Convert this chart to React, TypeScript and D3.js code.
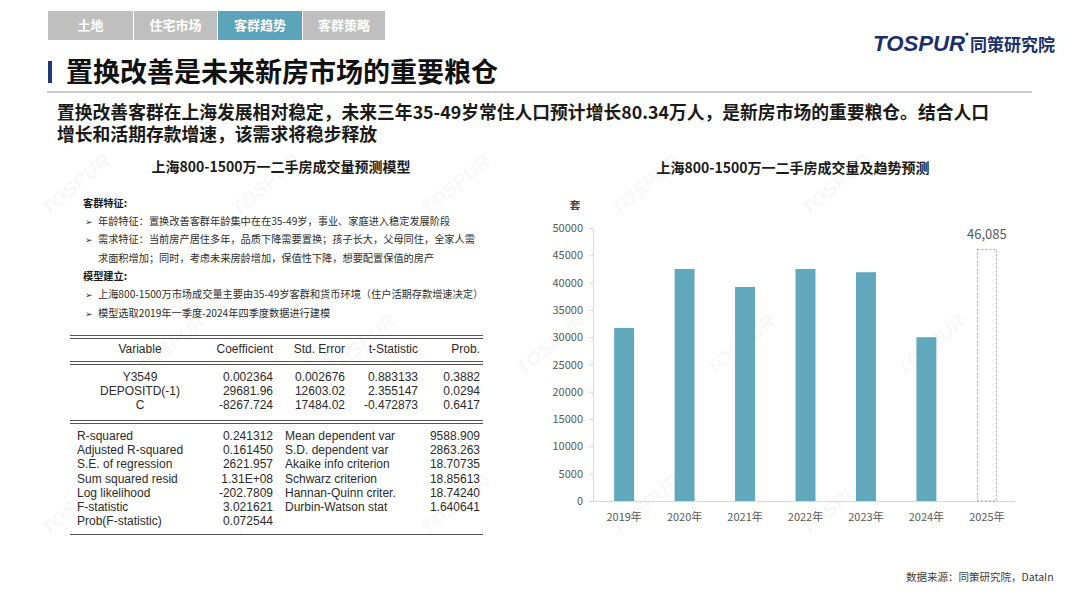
import { useMemo } from "react";
import { scaleBand, scaleLinear, scalePoint, range } from "d3";

const W = 1080;
const H = 608;

const cjk = "'Noto Sans CJK SC', 'Noto Sans', sans-serif";
const arial = "'Liberation Sans', Arial, sans-serif";

// tabs
const tabs = ["土地", "住宅市场", "客群趋势", "客群策略"];
const activeTab = "客群趋势";

// bar chart data
const years = ["2019年", "2020年", "2021年", "2022年", "2023年", "2024年", "2025年"];
const volumes = [31700, 42500, 39200, 42500, 41900, 30000, 46085];
const forecastYear = "2025年";
const yTicks = [0, 5000, 10000, 15000, 20000, 25000, 30000, 35000, 40000, 45000, 50000];

// regression table
const tableHeaders = ["Variable", "Coefficient", "Std. Error", "t-Statistic", "Prob."];
const varNames = ["Y3549", "DEPOSITD(-1)", "C"];
const coefs = ["0.002364", "29681.96", "-8267.724"];
const stdErrs = ["0.002676", "12603.02", "17484.02"];
const tStats = ["0.883133", "2.355147", "-0.472873"];
const probs = ["0.3882", "0.0294", "0.6417"];
const statLabelsL = [
  "R-squared",
  "Adjusted R-squared",
  "S.E. of regression",
  "Sum squared resid",
  "Log likelihood",
  "F-statistic",
  "Prob(F-statistic)",
];
const statValsL = ["0.241312", "0.161450", "2621.957", "1.31E+08", "-202.7809", "3.021621", "0.072544"];
const statLabelsR = [
  "Mean dependent var",
  "S.D. dependent var",
  "Akaike info criterion",
  "Schwarz criterion",
  "Hannan-Quinn criter.",
  "Durbin-Watson stat",
];
const statValsR = ["9588.909", "2863.263", "18.70735", "18.85613", "18.74240", "1.640641"];

// notes
const notes: Array<{ kind: "head" | "bullet" | "cont"; text: string }> = [
  { kind: "head", text: "客群特征:" },
  { kind: "bullet", text: "年龄特征：置换改善客群年龄集中在在35-49岁，事业、家庭进入稳定发展阶段" },
  { kind: "bullet", text: "需求特征：当前房产居住多年，品质下降需要置换；孩子长大，父母同住，全家人需" },
  { kind: "cont", text: "求面积增加；同时，考虑未来房龄增加，保值性下降，想要配置保值的房产" },
  { kind: "head", text: "模型建立:" },
  { kind: "bullet", text: "上海800-1500万市场成交量主要由35-49岁客群和货币环境（住户活期存款增速决定）" },
  { kind: "bullet", text: "模型选取2019年一季度-2024年四季度数据进行建模" },
];

const barColor = "#62a8bd";
const axisColor = "#d9d9d9";
const labelColor = "#595959";

export default function App() {
  const { x, y } = useMemo(() => {
    const x = scaleBand<string>().domain(years).range([593, 1018]).paddingInner(0.67).paddingOuter(0.35);
    const y = scaleLinear().domain([0, 50000]).range([501, 228]);
    return { x, y };
  }, []);

  const noteY = scalePoint<number>().domain(range(notes.length)).range([203, 313]);
  const statY = scalePoint<number>().domain(range(statLabelsL.length)).range([436, 521]);
  const varY = scalePoint<number>().domain(range(varNames.length)).range([377, 405]);
  const colRight = [0, 273, 345, 418, 480];

  // faint background watermarks, kept inside the page
  const watermarks: Array<[number, number]> = [];
  for (const gy of range(190, 600, 160)) {
    const shift = ((gy - 190) / 160) % 2 === 0 ? 0 : 95;
    for (const gx of range(80 + shift, 1020, 190)) watermarks.push([gx, gy]);
  }

  return (
    <svg
      width={W}
      height={H}
      viewBox={`0 0 ${W} ${H}`}
      style={{ position: "absolute", left: 0, top: 0, background: "#fff" }}
    >
      <rect width={W} height={H} fill="#fff" />
      {/* watermarks */}
      <g fill="#000" fillOpacity={0.03} fontFamily={arial} fontWeight="bold" fontStyle="italic" fontSize={20}>
        {watermarks.map(([wx, wy], i) => (
          <text key={i} transform={`translate(${wx},${wy}) rotate(-40)`} textAnchor="middle">
            TOSPUR
          </text>
        ))}
      </g>

      {/* tabs */}
      {tabs.map((t, i) => {
        const tx = [48, 134, 218, 303][i];
        const tw = [85, 83, 84, 82][i];
        return (
          <g key={t}>
            <rect x={tx} y={11} width={tw} height={29} fill={t === activeTab ? "#5ba4b9" : "#bfbfbf"} />
            <text
              x={tx + tw / 2}
              y={30}
              textAnchor="middle"
              fill="#fff"
              fontFamily={cjk}
              fontWeight="bold"
              fontSize={13}
            >
              {t}
            </text>
          </g>
        );
      })}

      {/* logo */}
      <text
        x={873}
        y={51}
        fill="#1b2f6b"
        fontFamily={arial}
        fontWeight="bold"
        fontStyle="italic"
        fontSize={22}
        textLength={92}
        lengthAdjust="spacingAndGlyphs"
      >
        TOSPUR
      </text>
      <circle cx={967} cy={34} r={1.5} fill="#1b2f6b" />
      <text x={970} y={51} fill="#1b2f6b" fontFamily={cjk} fontWeight="bold" fontSize={17}>
        同策研究院
      </text>

      {/* title */}
      <rect x={48} y={61} width={4} height={22} fill="#1f3a78" />
      <text x={66} y={82} fill="#111" fontFamily={cjk} fontWeight="bold" fontSize={27}>
        置换改善是未来新房市场的重要粮仓
      </text>
      <line x1={47} x2={1032} y1={92} y2={92} stroke="#9a9a9a" strokeWidth={1} />

      <text x={57} y={119} fontFamily={cjk} fontWeight="bold" fontSize={17.8} fill="#1a1a1a">
        置换改善客群在上海发展相对稳定，未来三年35-49岁常住人口预计增长80.34万人，是新房市场的重要粮仓。结合人口
      </text>
      <text x={57} y={141} fontFamily={cjk} fontWeight="bold" fontSize={17.8} fill="#1a1a1a">
        增长和活期存款增速，该需求将稳步释放
      </text>

      {/* left panel */}
      <text x={281} y={172} textAnchor="middle" fontFamily={cjk} fontWeight="bold" fontSize={14} fill="#1a1a1a">
        上海800-1500万一二手房成交量预测模型
      </text>
      <g fontFamily={cjk} fontSize={10.2} fill="#2e2e2e">
        {notes.map((n, i) => {
          const ny = (noteY(i) ?? 0) + 3.5;
          if (n.kind === "head")
            return (
              <text key={i} x={83} y={ny} fontWeight="bold" fill="#1a1a1a">
                {n.text}
              </text>
            );
          return (
            <g key={i}>
              {n.kind === "bullet" && (
                <text x={85} y={ny} fontSize={9} fill="#333">
                  ➢
                </text>
              )}
              <text x={98} y={ny}>
                {n.text}
              </text>
            </g>
          );
        })}
      </g>

      {/* regression table */}
      <g stroke="#555" strokeWidth={1}>
        {[335, 338, 361, 364, 420, 423, 534].map((ly, i) => (
          <line key={i} x1={70} x2={483} y1={ly + 0.5} y2={ly + 0.5} />
        ))}
      </g>
      <g fontFamily={arial} fontSize={12} fill="#2b2b2b">
        {tableHeaders.map((h, i) => (
          <text key={h} x={i === 0 ? 140 : colRight[i]} y={353} textAnchor={i === 0 ? "middle" : "end"}>
            {h}
          </text>
        ))}
        {varNames.map((v, i) => {
          const ry = (varY(i) ?? 0) + 4;
          return (
            <g key={v}>
              <text x={140} y={ry} textAnchor="middle">
                {v}
              </text>
              <text x={colRight[1]} y={ry} textAnchor="end">
                {coefs[i]}
              </text>
              <text x={colRight[2]} y={ry} textAnchor="end">
                {stdErrs[i]}
              </text>
              <text x={colRight[3]} y={ry} textAnchor="end">
                {tStats[i]}
              </text>
              <text x={colRight[4]} y={ry} textAnchor="end">
                {probs[i]}
              </text>
            </g>
          );
        })}
        {statLabelsL.map((s, i) => {
          const ry = (statY(i) ?? 0) + 4;
          return (
            <g key={s}>
              <text x={77} y={ry}>
                {s}
              </text>
              <text x={colRight[1]} y={ry} textAnchor="end">
                {statValsL[i]}
              </text>
              {statLabelsR[i] && (
                <text x={285} y={ry}>
                  {statLabelsR[i]}
                </text>
              )}
              {statValsR[i] && (
                <text x={colRight[4]} y={ry} textAnchor="end">
                  {statValsR[i]}
                </text>
              )}
            </g>
          );
        })}
      </g>

      {/* right chart */}
      <text x={793} y={173} textAnchor="middle" fontFamily={cjk} fontWeight="bold" fontSize={14} fill="#1a1a1a">
        上海800-1500万一二手房成交量及趋势预测
      </text>
      <text x={575} y={209} textAnchor="middle" fontFamily={cjk} fontWeight="bold" fontSize={10.5} fill="#404040">
        套
      </text>
      <g>
        <line x1={593.5} x2={593.5} y1={y(50000)} y2={y(0)} stroke={axisColor} />
        {yTicks.map((t) => (
          <g key={t}>
            <line x1={589} x2={593} y1={y(t) + 0.5} y2={y(t) + 0.5} stroke={axisColor} />
            <text
              x={583}
              y={y(t) + 4}
              textAnchor="end"
              fontFamily={cjk}
              fontSize={11}
              fill={labelColor}
            >
              {t}
            </text>
          </g>
        ))}
        <line x1={593} x2={1015} y1={y(0) + 0.5} y2={y(0) + 0.5} stroke={axisColor} />
        {years.map((yr, i) => {
          const bx = x(yr) ?? 0;
          const isForecast = yr === forecastYear;
          return (
            <g key={yr}>
              {isForecast ? (
                <rect
                  x={bx + 0.5}
                  y={y(volumes[i])}
                  width={x.bandwidth() - 1}
                  height={y(0) - y(volumes[i])}
                  fill="#fff"
                  stroke="#8c8c8c"
                  strokeWidth={0.8}
                  strokeDasharray="2 2"
                />
              ) : (
                <rect
                  x={bx}
                  y={y(volumes[i])}
                  width={x.bandwidth()}
                  height={y(0) - y(volumes[i])}
                  fill={barColor}
                />
              )}
              {isForecast && (
                <text
                  x={bx + x.bandwidth() / 2}
                  y={y(volumes[i]) - 10}
                  textAnchor="middle"
                  fontFamily={cjk}
                  fontSize={13}
                  fill={labelColor}
                >
                  {volumes[i].toLocaleString("en-US")}
                </text>
              )}
              <text
                x={bx + x.bandwidth() / 2}
                y={521}
                textAnchor="middle"
                fontFamily={cjk}
                fontSize={11}
                fill={labelColor}
              >
                {yr}
              </text>
            </g>
          );
        })}
      </g>

      {/* footer */}
      <text x={906} y={581} fontFamily={cjk} fontSize={10.5} fill="#404040">
        数据来源：同策研究院，DataIn
      </text>
    </svg>
  );
}
